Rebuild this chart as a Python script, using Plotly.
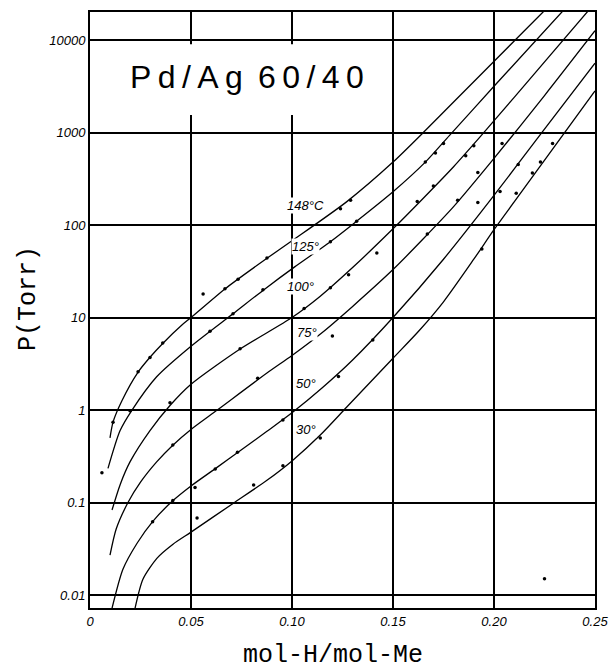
import plotly.graph_objects as go

# ---- isotherm curves (x = mol-H/mol-Me, P in Torr) ----
x_148 = [0.0099, 0.0114, 0.0158, 0.0238, 0.0297, 0.036, 0.0455, 0.05, 0.0668, 0.0876, 0.10, 0.127, 0.15, 0.165, 0.18, 0.2105, 0.226]
p_148 = [0.50, 0.74, 1.26, 2.57, 3.72, 5.25, 8.3, 10, 20.4, 43.7, 67.6, 178, 479, 1000, 2140, 10000, 21900]

x_125 = [0.0089, 0.0149, 0.0208, 0.033, 0.05, 0.0708, 0.0866, 0.1015, 0.119, 0.132, 0.15, 0.166, 0.178, 0.20, 0.236]
p_125 = [0.234, 0.60, 1.0, 2.29, 4.9, 11.0, 20.4, 35.5, 66, 110, 229, 479, 933, 3160, 22900]

x_100 = [0.0109, 0.015, 0.0198, 0.0297, 0.0396, 0.05, 0.0743, 0.10, 0.114, 0.13, 0.15, 0.165, 0.18, 0.193, 0.21, 0.248]
p_100 = [0.083, 0.158, 0.275, 0.60, 1.12, 1.9, 4.57, 10, 17, 34.7, 91, 195, 427, 891, 2400, 22400]

x_75 = [0.0099, 0.013, 0.0188, 0.025, 0.033, 0.041, 0.05, 0.063, 0.0876, 0.10, 0.115, 0.13, 0.15, 0.165, 0.18, 0.20, 0.225, 0.25]
p_75 = [0.027, 0.052, 0.10, 0.166, 0.275, 0.417, 0.617, 1.0, 2.51, 3.89, 6.9, 13.2, 33, 71, 158, 525, 2510, 12600]

x_50 = [0.0109, 0.0163, 0.0233, 0.0312, 0.0411, 0.05, 0.0629, 0.0743, 0.0876, 0.10, 0.115, 0.13, 0.15, 0.175, 0.20, 0.223, 0.25]
p_50 = [0.0072, 0.019, 0.0363, 0.063, 0.105, 0.151, 0.24, 0.363, 0.589, 0.933, 1.74, 3.47, 10, 42.7, 209, 955, 5620]

x_30 = [0.0223, 0.0262, 0.0332, 0.0411, 0.05, 0.0708, 0.0876, 0.10, 0.114, 0.127, 0.15, 0.163, 0.175, 0.19, 0.20, 0.21, 0.23, 0.25]
p_30 = [0.0072, 0.0148, 0.0251, 0.0355, 0.0479, 0.0977, 0.174, 0.282, 0.537, 1.07, 3.63, 7.24, 14.8, 42.7, 89, 178, 708, 2820]

# ---- measured points ----
pts_x = [0.0114, 0.0238, 0.0297, 0.036, 0.0668, 0.0733, 0.0876, 0.124, 0.129,
         0.0059, 0.056,
         0.0198, 0.0594, 0.0708, 0.0856, 0.119, 0.132, 0.166, 0.171, 0.175,
         0.0396, 0.0743, 0.106, 0.119, 0.162, 0.17, 0.186, 0.19, 0.128, 0.142,
         0.041, 0.083, 0.12, 0.167, 0.182, 0.192, 0.204, 0.192,
         0.031, 0.041, 0.062, 0.073, 0.0955, 0.123, 0.14, 0.203, 0.212, 0.052,
         0.081, 0.0955, 0.194, 0.211, 0.219, 0.223, 0.229, 0.053, 0.114, 0.225]
pts_p = [0.74, 2.6, 3.7, 5.3, 20.5, 26, 44, 150, 185,
         0.21, 18,
         0.98, 7.1, 11.0, 20, 66, 110, 480, 600, 760,
         1.2, 4.6, 12.5, 21, 180, 265, 560, 720, 29, 50,
         0.42, 2.2, 6.3, 80, 185, 370, 760, 175,
         0.062, 0.105, 0.23, 0.35, 0.78, 2.3, 5.7, 230, 450, 0.145,
         0.155, 0.25, 55, 220, 365, 480, 760, 0.068, 0.5, 0.015]

curve_labels = ["148°C", "125°", "100°", "75°", "50°", "30°"]

x_ticks = [0, 0.05, 0.10, 0.15, 0.20, 0.25]
x_ticktext = ["0", "0.05", "0.10", "0.15", "0.20", "0.25"]
y_ticks = [0.01, 0.1, 1, 10, 100, 1000, 10000]
y_ticktext = ["0.01", "0.1", "1", "10", "100", "1000", "10000"]

fig = go.Figure()
for xs, ps in [(x_148, p_148), (x_125, p_125), (x_100, p_100), (x_75, p_75), (x_50, p_50), (x_30, p_30)]:
    fig.add_trace(go.Scatter(x=xs, y=ps, mode="lines",
                             line=dict(color="black", width=1.3, shape="spline", smoothing=0.7),
                             showlegend=False, hoverinfo="skip"))
fig.add_trace(go.Scatter(x=pts_x, y=pts_p, mode="markers",
                         marker=dict(color="black", size=3.5),
                         showlegend=False, hoverinfo="skip"))

# white box behind the title (interrupts the grid)
fig.add_shape(type="rect", xref="paper", yref="paper", x0=0.004, x1=0.574, y0=0.827, y1=0.946,
              fillcolor="white", line=dict(width=0), layer="above")

fig.add_annotation(xref="paper", yref="paper", x=0.311, y=0.891, xanchor="center", yanchor="middle",
                   showarrow=False,
                   text="P\u2009d\u2009/\u2009A\u2009g \u20096\u20090\u2009/\u20094\u20090",
                   font=dict(family="Liberation Sans, Arial", size=32, color="black"))

label_pos = [(0.388, 0.6745), (0.398, 0.606), (0.388, 0.539), (0.408, 0.463), (0.406, 0.376), (0.406, 0.299)]
for lab, (xp, yp) in zip(curve_labels, label_pos):
    fig.add_annotation(xref="paper", yref="paper", x=xp, y=yp, xanchor="left", yanchor="middle",
                       showarrow=False, text=lab, bgcolor="white", borderpad=0,
                       font=dict(family="Liberation Sans, Arial", size=13, color="black", style="italic"))

# axis titles
fig.add_annotation(xref="paper", yref="paper", x=0.482, y=-0.079, xanchor="center", yanchor="middle",
                   showarrow=False, text="mol-H/mol-Me",
                   font=dict(family="Liberation Mono, DejaVu Sans Mono", size=25, color="black"))
fig.add_annotation(xref="paper", yref="paper", x=-0.123, y=0.52, xanchor="center", yanchor="middle",
                   showarrow=False, textangle=-90, text="P(Torr)",
                   font=dict(family="Liberation Mono, DejaVu Sans Mono", size=25, color="black"))

axis_common = dict(showgrid=True, gridcolor="black", gridwidth=2, showline=True, linecolor="black",
                   linewidth=2, mirror=True, zeroline=False, ticks="", automargin=False,
                   tickfont=dict(family="Liberation Sans, Arial", size=13, color="black", style="italic"))

fig.update_layout(
    width=616, height=672,
    margin=dict(l=90, r=21, t=12, b=64, autoexpand=False),
    paper_bgcolor="white", plot_bgcolor="white",
    xaxis=dict(range=[0, 0.25], tickvals=x_ticks, ticktext=x_ticktext, **axis_common),
    yaxis=dict(type="log", range=[-2.14, 4.303], tickvals=y_ticks, ticktext=y_ticktext, **axis_common),
)

fig.write_html("out.html", config={"displayModeBar": False, "staticPlot": True},
               post_script="document.body.style.margin='0px';document.body.style.overflow='hidden';")
